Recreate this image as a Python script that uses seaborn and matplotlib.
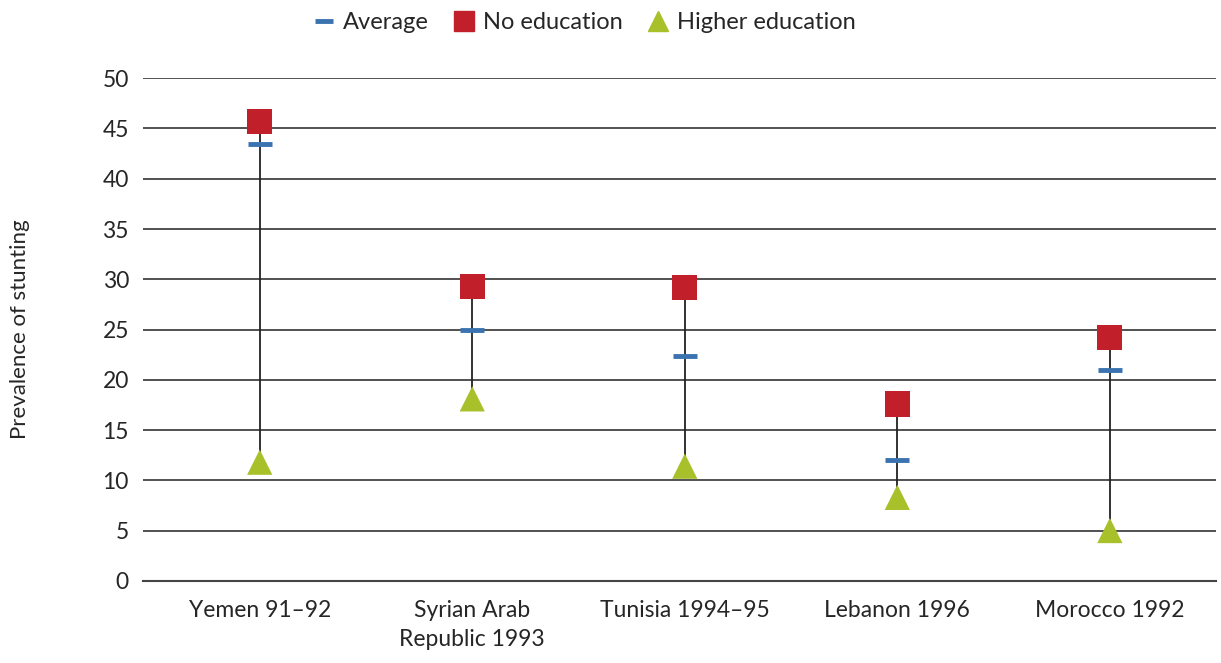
import pandas as pd
import matplotlib.pyplot as plt
import seaborn as sns
from matplotlib.lines import Line2D

# data
countries = ["Yemen 91\u201392", "Syrian Arab\nRepublic 1993", "Tunisia 1994\u201395",
             "Lebanon 1996", "Morocco 1992"]
average = [43.5, 25.0, 22.4, 12.0, 21.0]
no_education = [45.7, 29.3, 29.2, 17.6, 24.2]
higher_education = [11.8, 18.1, 11.4, 8.3, 5.0]

df = pd.DataFrame({"country": countries, "Average": average,
                   "No education": no_education, "Higher education": higher_education})

sns.set_style("white")
plt.rcParams["font.family"] = ["Lato", "DejaVu Sans"]

blue = "#3a73b0"
red = "#c1202b"
green = "#a8c02a"

fig, ax = plt.subplots(figsize=(12.21, 6.63), dpi=100)
fig.subplots_adjust(left=0.117, right=0.996, top=0.882, bottom=0.124)

# range lines from no education down to higher education
ax.vlines(df["country"], df["Higher education"], df["No education"], color="#222222", lw=1.3, zorder=2)

sns.scatterplot(data=df, x="country", y="No education", marker="s", s=330, color=red,
                edgecolor="none", ax=ax, zorder=3)
sns.scatterplot(data=df, x="country", y="Higher education", marker="^", s=330, color=green,
                edgecolor="none", ax=ax, zorder=3)
sns.scatterplot(data=df, x="country", y="Average", marker="_", s=300, color=blue,
                linewidth=3.5, ax=ax, zorder=4)

ax.set_xlim(-0.55, 4.5)
ax.set_ylim(0, 50)
ax.set_yticks(range(0, 51, 5))
ax.yaxis.grid(True, color="#222222", lw=1.1)
ax.set_axisbelow(True)

ax.set_xticks(range(len(countries)))
ax.set_xticklabels(countries, fontsize=16.5, linespacing=1.45)
ax.set_xticks([i - 0.5 for i in range(len(countries) + 1)], minor=True)
ax.tick_params(axis="x", which="major", length=0, pad=14)
ax.tick_params(axis="x", which="minor", length=7, width=1.3, color="#444444", direction="out")
ax.tick_params(axis="y", length=0, labelsize=16.5, pad=10)

for side in ["top", "right", "left"]:
    ax.spines[side].set_visible(False)
ax.spines["bottom"].set_color("#444444")
ax.spines["bottom"].set_linewidth(1.5)

ax.set_xlabel("")
ax.set_ylabel("Prevalence of stunting", fontsize=16, labelpad=52)

handles = [
    Line2D([], [], marker="_", color=blue, linestyle="none", markersize=13, markeredgewidth=3.5),
    Line2D([], [], marker="s", color=red, linestyle="none", markersize=14),
    Line2D([], [], marker="^", color=green, linestyle="none", markersize=14),
]
fig.legend(handles, ["Average", "No education", "Higher education"], loc="upper center",
           bbox_to_anchor=(0.478, 1.014), ncol=3, frameon=False, fontsize=17,
           handletextpad=0.3, columnspacing=1.0, handlelength=1.0)

fig.savefig("out.png", dpi=100)
